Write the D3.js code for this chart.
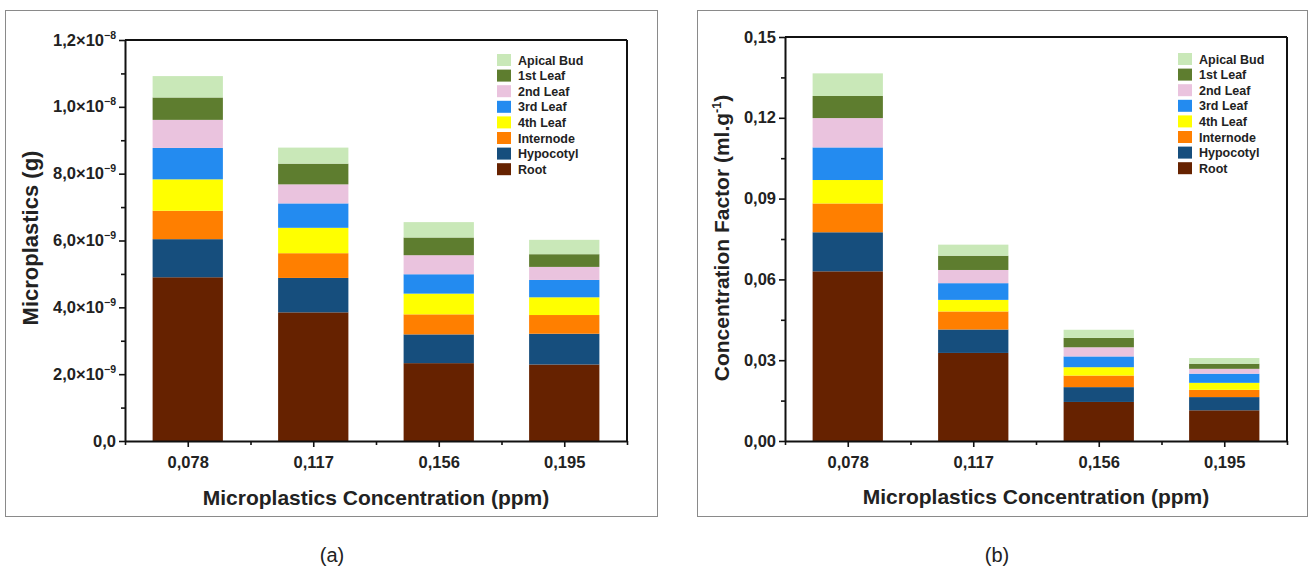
<!DOCTYPE html>
<html><head><meta charset="utf-8">
<script src="https://cdn.jsdelivr.net/npm/d3@7"></script>
<style>
body{margin:0;background:#fff;}
text{font-family:"Liberation Sans",Arial,sans-serif;}
</style></head>
<body><svg id="c" width="1310" height="571"></svg>
<script>
const categories = ["0,078","0,117","0,156","0,195"];
const seriesNames = ["Root","Hypocotyl","Internode","4th Leaf","3rd Leaf","2nd Leaf","1st Leaf","Apical Bud"];
const seriesColors = ["#662200","#164e7d","#ff7f00","#ffff00","#238bf0","#eac3de","#5e7d2f","#c9e8b8"];

// Panel (a): microplastics mass (g), per series, per category
const massRoot      = [4.90e-9, 3.85e-9, 2.33e-9, 2.29e-9];
const massHypocotyl = [1.14e-9, 1.03e-9, 0.86e-9, 0.92e-9];
const massInternode = [0.85e-9, 0.74e-9, 0.60e-9, 0.56e-9];
const mass4thLeaf   = [0.94e-9, 0.76e-9, 0.62e-9, 0.53e-9];
const mass3rdLeaf   = [0.94e-9, 0.73e-9, 0.58e-9, 0.52e-9];
const mass2ndLeaf   = [0.84e-9, 0.57e-9, 0.57e-9, 0.39e-9];
const mass1stLeaf   = [0.67e-9, 0.62e-9, 0.53e-9, 0.38e-9];
const massApicalBud = [0.64e-9, 0.48e-9, 0.46e-9, 0.43e-9];

// Panel (b): concentration factor (ml.g-1)
const cfRoot      = [0.0630, 0.0327, 0.0145, 0.0114];
const cfHypocotyl = [0.0145, 0.0087, 0.0055, 0.0049];
const cfInternode = [0.0107, 0.0067, 0.0043, 0.0027];
const cf4thLeaf   = [0.0087, 0.0043, 0.0031, 0.0026];
const cf3rdLeaf   = [0.0121, 0.0062, 0.0040, 0.0034];
const cf2ndLeaf   = [0.0109, 0.0049, 0.0034, 0.0018];
const cf1stLeaf   = [0.0082, 0.0053, 0.0035, 0.0019];
const cfApicalBud = [0.0084, 0.0041, 0.0030, 0.0021];

const massTicks = [0, 2e-9, 4e-9, 6e-9, 8e-9, 1.0e-8, 1.2e-8];
const massTickMantissa = ["0,0","2,0","4,0","6,0","8,0","1,0","1,2"];
const massTickExponent = [null,"−9","−9","−9","−9","−8","−8"];
const cfTicks = [0, 0.03, 0.06, 0.09, 0.12, 0.15];
const cfTickLabels = ["0,00","0,03","0,06","0,09","0,12","0,15"];

const svg = d3.select("#c");

function drawPanel(o){
  const g = svg.append("g");
  g.append("rect").attr("x",o.frame[0]+0.5).attr("y",o.frame[1]+0.5)
    .attr("width",o.frame[2]-o.frame[0]).attr("height",o.frame[3]-o.frame[1])
    .attr("fill","none").attr("stroke","#8a8a8a").attr("stroke-width",1);
  const x = d3.scaleLinear().domain([0.5,4.5]).range([o.left,o.right]);
  const y = d3.scaleLinear().domain([0,o.ymax]).range([o.bottom,o.top]);
  const stackData = categories.map((c,i)=>{const r={cat:c,i:i}; o.series.forEach((s,k)=>r[seriesNames[k]]=s[i]); return r;});
  const stacked = d3.stack().keys(seriesNames)(stackData);
  const bw = (x(2)-x(1))*0.56;
  g.selectAll("g.layer").data(stacked).join("g").attr("fill",(d,k)=>seriesColors[k])
    .selectAll("rect").data(d=>d).join("rect")
    .attr("x",d=>x(d.data.i+1)-bw/2).attr("width",bw)
    .attr("y",d=>y(d[1])).attr("height",d=>y(d[0])-y(d[1]));
  g.append("line").attr("x1",o.left).attr("x2",o.right).attr("y1",o.top).attr("y2",o.top).attr("stroke","#111").attr("stroke-width",2);
  g.append("line").attr("x1",o.right).attr("x2",o.right).attr("y1",o.top).attr("y2",o.bottom).attr("stroke","#111").attr("stroke-width",2);
  const xa = g.append("g").attr("transform",`translate(0,${o.bottom})`)
    .call(d3.axisBottom(x).tickValues([1,2,3,4]).tickSize(6).tickSizeOuter(0).tickFormat((d,i)=>categories[i]));
  const xm = g.append("g").attr("transform",`translate(0,${o.bottom})`)
    .call(d3.axisBottom(x).tickValues([0.5,1.5,2.5,3.5,4.5]).tickSize(4).tickSizeOuter(0).tickFormat(""));
  xm.select(".domain").remove();
  const ya = g.append("g").attr("transform",`translate(${o.left},0)`)
    .call(d3.axisLeft(y).tickValues(o.ticks).tickSize(6).tickSizeOuter(0).tickFormat(""));
  const minor = [];
  for(let i=0;i<o.ticks.length-1;i++) minor.push((o.ticks[i]+o.ticks[i+1])/2);
  const ym = g.append("g").attr("transform",`translate(${o.left},0)`)
    .call(d3.axisLeft(y).tickValues(minor).tickSize(4).tickSizeOuter(0).tickFormat(""));
  ym.select(".domain").remove();
  [xa,ya,xm,ym].forEach(a=>{a.selectAll(".domain").attr("stroke","#111").attr("stroke-width",2);a.selectAll("line").attr("stroke","#111").attr("stroke-width",1.6);});
  xa.selectAll("text").attr("font-size",16.5).attr("font-weight","bold").attr("fill","#222")
    .attr("dy",null).attr("y",27).attr("font-family","Liberation Sans, Arial, sans-serif");
  o.ticks.forEach((t,i)=>{
    const tx = g.append("text").attr("x",o.left-9).attr("y",y(t)+5.5).attr("text-anchor","end")
      .attr("font-size",16.5).attr("font-weight","bold").attr("fill","#222");
    o.labelFn(tx,i);
  });
  g.append("text").attr("x",(o.left+o.right)/2).attr("y",o.xTitleY).attr("text-anchor","middle")
    .attr("font-size",21).attr("font-weight","bold").attr("fill","#222").text("Microplastics Concentration (ppm)");
  const yt = g.append("text").attr("transform",`translate(${o.yTitleX},${o.yTitleC}) rotate(-90)`)
    .attr("text-anchor","middle").attr("font-size",o.yTitleSize).attr("font-weight","bold").attr("fill","#222");
  o.yTitleFn(yt);
  const lg = g.append("g").attr("transform",`translate(${o.legX},${o.legY})`);
  const order = seriesNames.map((n,k)=>k).reverse();
  order.forEach((k,j)=>{
    lg.append("rect").attr("x",0).attr("y",j*15.6-6).attr("width",14).attr("height",12).attr("fill",seriesColors[k]);
    lg.append("text").attr("x",21).attr("y",j*15.6+4.5).attr("font-size",12.5).attr("font-weight","bold").attr("fill","#222").text(seriesNames[k]);
  });
  svg.append("text").attr("x",o.capX).attr("y",562).attr("text-anchor","middle")
    .attr("font-family","Liberation Serif, serif").attr("font-size",20).attr("fill","#222").text(o.caption);
}

drawPanel({
  frame:[5,10,657,516], left:125, right:627, top:40, bottom:441,
  ymax:1.2e-8, ticks:massTicks,
  series:[massRoot,massHypocotyl,massInternode,mass4thLeaf,mass3rdLeaf,mass2ndLeaf,mass1stLeaf,massApicalBud],
  labelFn:(t,i)=>{
    if(massTickExponent[i]===null){t.text(massTickMantissa[i]);return;}
    t.append("tspan").text(massTickMantissa[i]+"×10");
    t.append("tspan").attr("dy",-7).attr("font-size",10.5).text(massTickExponent[i]);
  },
  yTitleX:38, yTitleC:238, yTitleSize:22, xTitleY:505,
  yTitleFn:t=>t.text("Microplastics (g)"),
  legX:497, legY:60, capX:332, caption:"(a)"
});
drawPanel({
  frame:[697,10,1307,516], left:785, right:1287, top:37, bottom:441,
  ymax:0.15, ticks:cfTicks,
  series:[cfRoot,cfHypocotyl,cfInternode,cf4thLeaf,cf3rdLeaf,cf2ndLeaf,cf1stLeaf,cfApicalBud],
  labelFn:(t,i)=>t.text(cfTickLabels[i]),
  yTitleX:729, yTitleC:238, yTitleSize:21, xTitleY:504,
  yTitleFn:t=>{t.append("tspan").text("Concentration Factor (ml.g");t.append("tspan").attr("dy",-8).attr("font-size",12.5).text("-1");t.append("tspan").attr("dy",8).text(")");},
  legX:1178, legY:59, capX:997, caption:"(b)"
});
</script></body></html>
